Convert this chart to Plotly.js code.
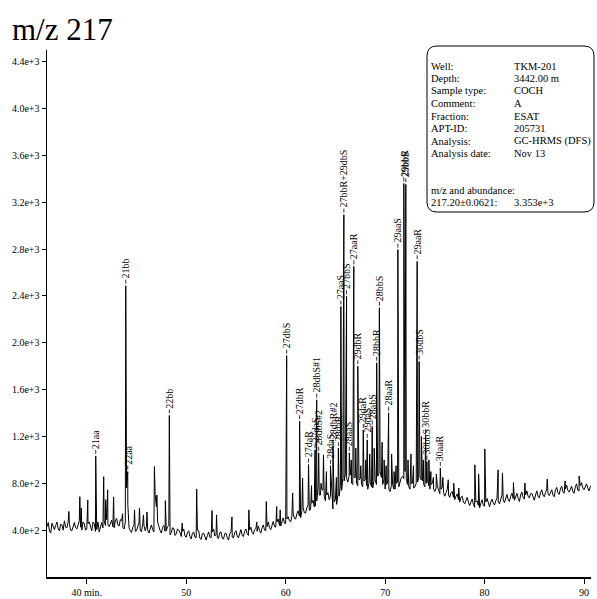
<!DOCTYPE html>
<html><head><meta charset="utf-8">
<script src="https://cdn.plot.ly/plotly-3.0.1.min.js"></script>
<style>html,body{margin:0;padding:0;background:#fff}#chart{width:597px;height:599px}</style>
</head><body><div id="chart"></div>
<script>
// ---- data ----
const baseStart = 36, baseStep = 0.25;
const baseline = [
 430,390,460,405,470,395,445,480,
 420,455,395,465,410,480,400,455,
 410,470,395,455,405,385,465,480,
 490,430,485,420,500,435,480,410,
 760,420,380,445,395,465,385,440,
 430,375,445,385,600,430,375,440,
 395,440,380,415,370,400,345,410,
 340,395,325,385,335,395,320,375,
 315,385,335,410,365,330,385,325,
 375,315,385,335,395,335,405,345,
 410,355,425,365,415,435,375,445,
 395,470,405,475,425,495,435,505,
 455,515,470,545,495,565,505,595,
 545,615,575,655,605,760,700,740,
 650,720,690,580,660,700,780,850,
 880,810,870,790,850,780,840,770,
 830,750,810,760,830,860,900,790,
 750,800,730,790,750,810,820,860,
 900,790,750,800,770,810,860,820,
 770,830,750,800,730,780,710,770,
 690,750,680,730,660,710,640,690,
 625,680,610,665,595,650,590,660,
 605,670,600,665,615,675,625,700,
 635,705,645,715,655,715,645,725,
 665,735,675,715,655,735,675,745,
 685,755,695,745,685,765,705,775,
 715,785,725,775,715,795,735,805,
 745,795,735,785
];
// intermediate noise samples, half a step after each baseline sample
const baselineMid = [
 465,375,430,440,410,450,400,425,
 470,400,440,420,445,425,470,400,
 455,420,470,390,470,440,420,440,
 445,470,430,480,445,490,425,470,
 620,395,425,390,440,400,450,395,
 400,420,405,700,470,395,425,390,
 430,360,420,355,410,380,390,350,
 380,345,375,340,400,330,370,335,
 355,340,385,350,335,380,330,370,
 335,370,340,380,350,385,355,390,
 370,400,380,405,390,395,420,400,
 430,420,455,430,470,440,470,460,
 495,480,520,500,540,520,560,550,
 590,570,630,600,650,700,750,690,
 700,660,720,640,620,690,740,820,
 840,860,800,850,800,830,790,820,
 780,800,770,820,790,880,850,830,
 790,750,780,750,800,770,850,840,
 840,770,800,760,800,840,830,790,
 800,780,790,750,760,740,750,720,
 720,700,720,680,690,660,680,640,
 650,640,640,620,640,610,630,610,
 640,630,640,630,650,640,670,660,
 680,660,690,670,690,670,700,680,
 700,690,710,680,700,690,720,700,
 720,710,730,700,740,720,750,730,
 750,740,760,730,770,740,780,760,
 770,760,770
];
const peakTimes = [38.2,39.3,39.45,40.1,41.7,41.9,42.1,42.7,43.6,44.8,45.3,45.7,46.05,46.8,47.05,47.9,49.6,51.05,52.6,53.05,54.6,56.3,57.1,58.05,59.1,59.45,60.7,61.7,62.6,63.55,63.8,64.1,65.1,66.6,67.05,67.55,68.05,68.45,68.9,69.7,69.9,70.1,70.65,70.9,71.1,72.3,72.6,72.85,73.65,73.85,74.4,74.6,74.85,75.15,75.8,76.35,76.9,77.4,79.02,79.4,80.02,81.36,81.8,82.9,84.05,86.3,88.1,89.5];
const peakHeights = [560,686,590,658,857,660,744,684,540,573,590,530,555,943,700,652,460,752,567,530,513,573,470,644,601,573,718,846,780,800,1043,900,850,1000,1100,950,1000,1050,1100,1150,1000,950,1050,900,950,1000,1050,950,1200,1000,1000,900,850,880,850,830,800,760,957,880,1094,915,889,806,803,837,820,863];
const labelTimes = [40.9,43.92,44.12,48.3,60.1,61.4,62.3,62.95,63.12,63.32,64.5,64.75,65.3,65.55,65.85,66.12,66.4,66.85,67.25,67.8,68.2,68.7,69.15,69.42,70.35,71.28,71.88,72.08,73.22,73.42,74.07,74.2,75.55];
const labelHeights = [1034,2487,900,1380,1890,1330,960,1085,1513,1060,950,1120,1100,2310,3094,2396,1060,2652,1800,1256,1171,1285,1829,2299,1402,2795,3360,3353,2695,1840,1215,985,931];
const labelTexts = ['21aa','21bb','22aa','22bb','27dbS','27dbR','27daR','27daS','28dbS#1','28dbS#2','28daS','28dbR#2','28daR','27aaS','27bbR+29dbS','27bbS','28aaS','27aaR','29dbR','29daR','29daS','28abS','28bbR','28bbS','28aaR','29aaS','29bbR','29bbS','29aaR','30dbS','30bbR','30bbS','30aaR'];
const xTickVals = [40,50,60,70,80,90];
const xTickText = ['40 min.','50','60','70','80','90'];
const yTickVals = [400,800,1200,1600,2000,2400,2800,3200,3600,4000,4400];
const yTickText = ['4.0e+2','8.0e+2','1.2e+3','1.6e+3','2.0e+3','2.4e+3','2.8e+3','3.2e+3','3.6e+3','4.0e+3','4.4e+3'];
const infoKeys = ['Well:','Depth:','Sample type:','Comment:','Fraction:','APT-ID:','Analysis:','Analysis date:','m/z and abundance:','217.20\u00b10.0621:'];
const infoVals = ['TKM-201','3442.00 m','COCH','A','ESAT','205731','GC-HRMS (DFS)','Nov 13','','3.353e+3'];

// ---- build trace ----
let pts = baseline.map((v,i)=>[baseStart+i*baseStep, v]);
baselineMid.forEach((v,i)=>pts.push([baseStart+(i+0.5)*baseStep, v]));
peakTimes.forEach((t,i)=>pts.push([t, peakHeights[i]]));
labelTimes.forEach((t,i)=>pts.push([t, labelHeights[i]]));
pts.sort((a,b)=>a[0]-b[0]);
const xs = pts.map(p=>p[0]), ys = pts.map(p=>p[1]);

const M = {l:47, r:6, t:50, b:22};
const W = 597, H = 599;
const pw = W-M.l-M.r, ph = H-M.t-M.b;
const px = x => (x-M.l)/pw;
const py = y => (H-M.b-y)/ph;
const serif = 'Liberation Serif, Times New Roman, serif';

const annotations = labelTexts.map((s,i)=>({
  x: labelTimes[i], y: labelHeights[i], xref:'x', yref:'y',
  text: s, textangle: -90, showarrow: false, xanchor:'center', yanchor:'bottom', yshift: 6,
  font:{family:serif, size:10, color:'#000'}, borderpad:0
}));
const shapes = labelTimes.map((t,i)=>({
  type:'line', xref:'x', yref:'y', ysizemode:'pixel', yanchor: labelHeights[i],
  x0:t, x1:t, y0:2, y1:6, line:{color:'#000', width:0.8}
}));
const lineY = [66,78.5,91,103.5,116,128.5,141,153.5,190,203];
infoKeys.forEach((k,i)=>{
  annotations.push({xref:'paper',yref:'paper',x:px(430),y:py(lineY[i]),text:k,showarrow:false,xanchor:'left',yanchor:'middle',borderpad:0,font:{family:serif,size:10.5,color:'#000'}});
  if (infoVals[i]) annotations.push({xref:'paper',yref:'paper',x:px(513),y:py(lineY[i]),text:infoVals[i],showarrow:false,xanchor:'left',yanchor:'middle',borderpad:0,font:{family:serif,size:10.5,color:'#000'}});
});

const bx0=px(427), bx1=px(594), by0=py(212), by1=py(46);
const rx=10/pw, ry=10/ph;
const boxPath = `M ${bx0+rx} ${by1} L ${bx1-rx} ${by1} Q ${bx1} ${by1} ${bx1} ${by1-ry} L ${bx1} ${by0+ry} Q ${bx1} ${by0} ${bx1-rx} ${by0} L ${bx0+rx} ${by0} Q ${bx0} ${by0} ${bx0} ${by0+ry} L ${bx0} ${by1-ry} Q ${bx0} ${by1} ${bx0+rx} ${by1} Z`;
shapes.push({type:'path', xref:'paper', yref:'paper', path:boxPath, line:{color:'#000', width:1}, fillcolor:'rgba(0,0,0,0)'});

const layout = {
  width:W, height:H, margin:M, paper_bgcolor:'#fff', plot_bgcolor:'#fff', showlegend:false,
  title:{text:'m/z 217', font:{family:serif, size:31, color:'#000'}, xref:'container', yref:'container', x:12/W, xanchor:'left', y:1-29/H, yanchor:'middle'},
  xaxis:{range:[36,90.7], showline:true, linecolor:'#000', linewidth:1.5, ticks:'outside', ticklen:5, tickwidth:1, tickcolor:'#000',
    tickvals:xTickVals, ticktext:xTickText, showgrid:false, zeroline:false, tickfont:{family:serif,size:10,color:'#000'}},
  yaxis:{range:[0,4500], showline:true, linecolor:'#000', linewidth:1.5, ticks:'outside', ticklen:4, tickwidth:1, tickcolor:'#000',
    tickvals:yTickVals, ticktext:yTickText, showgrid:false, zeroline:false, tickfont:{family:serif,size:10,color:'#000'}},
  shapes,
  annotations
};
Plotly.newPlot('chart',[{x:xs,y:ys,type:'scatter',mode:'lines',line:{color:'#000',width:1},hoverinfo:'skip'}],layout,{staticPlot:true});
</script></body></html>
